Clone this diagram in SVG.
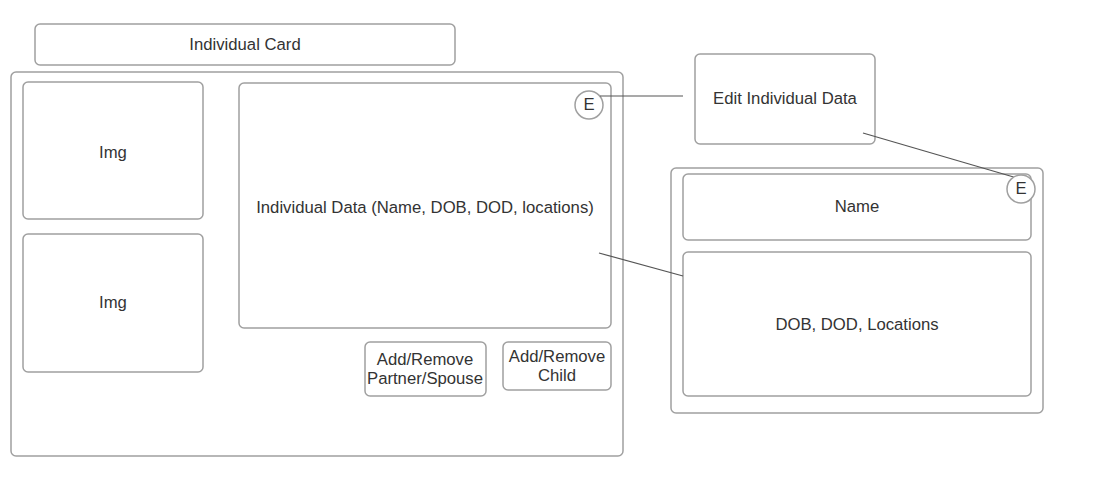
<svg xmlns="http://www.w3.org/2000/svg" width="1102" height="490" viewBox="0 0 1102 490">
<style>
.b{fill:#fff;stroke:#a0a0a0;stroke-width:1.5}
.t{font-family:"Liberation Sans",Arial,sans-serif;font-size:16.7px;fill:#333;text-anchor:middle;dominant-baseline:central}
.c{stroke:#555;stroke-width:1.2;fill:none}
</style>
<rect width="1102" height="490" fill="#fff"/>
<g id="individual-card-title"><rect class="b" x="35" y="24" width="420" height="41" rx="5"/><text class="t" x="245" y="44">Individual Card</text></g>
<g id="card"><rect class="b" x="11" y="72" width="612" height="384" rx="5"/></g>
<g id="img1"><rect class="b" x="23" y="82" width="180" height="137" rx="5"/><text class="t" x="113" y="152">Img</text></g>
<g id="img2"><rect class="b" x="23" y="234" width="180" height="138" rx="5"/><text class="t" x="113" y="302">Img</text></g>
<g id="individual-data"><rect class="b" x="239" y="83" width="372" height="245" rx="5"/><text class="t" x="425" y="207">Individual Data (Name, DOB, DOD, locations)</text></g>
<g id="edit1"><circle class="b" cx="589" cy="105" r="14"/><text class="t" x="589" y="104">E</text></g>
<g id="add-partner"><rect class="b" x="365" y="342" width="121" height="54" rx="5"/><text class="t" x="425" y="359">Add/Remove</text><text class="t" x="425" y="378">Partner/Spouse</text></g>
<g id="add-child"><rect class="b" x="503" y="342" width="108" height="48" rx="5"/><text class="t" x="557" y="356">Add/Remove</text><text class="t" x="557" y="375">Child</text></g>
<g id="edit-individual-data"><rect class="b" x="695" y="54" width="180" height="90" rx="5"/><text class="t" x="785" y="98">Edit Individual Data</text></g>
<g id="edit-panel"><rect class="b" x="671" y="168" width="372" height="245" rx="5"/></g>
<g id="name"><rect class="b" x="683" y="174" width="348" height="66" rx="5"/><text class="t" x="857" y="206">Name</text></g>
<g id="dob"><rect class="b" x="683" y="252" width="348" height="144" rx="5"/><text class="t" x="857" y="324">DOB, DOD, Locations</text></g>
<g id="connectors">
<line class="c" x1="600" y1="96" x2="683" y2="96"/>
<line class="c" x1="863" y1="133" x2="1017" y2="178"/>
<line class="c" x1="599" y1="253" x2="683" y2="276"/>
</g>
<g id="edit2"><circle class="b" cx="1021" cy="189" r="14"/><text class="t" x="1021" y="188">E</text></g>
</svg>
